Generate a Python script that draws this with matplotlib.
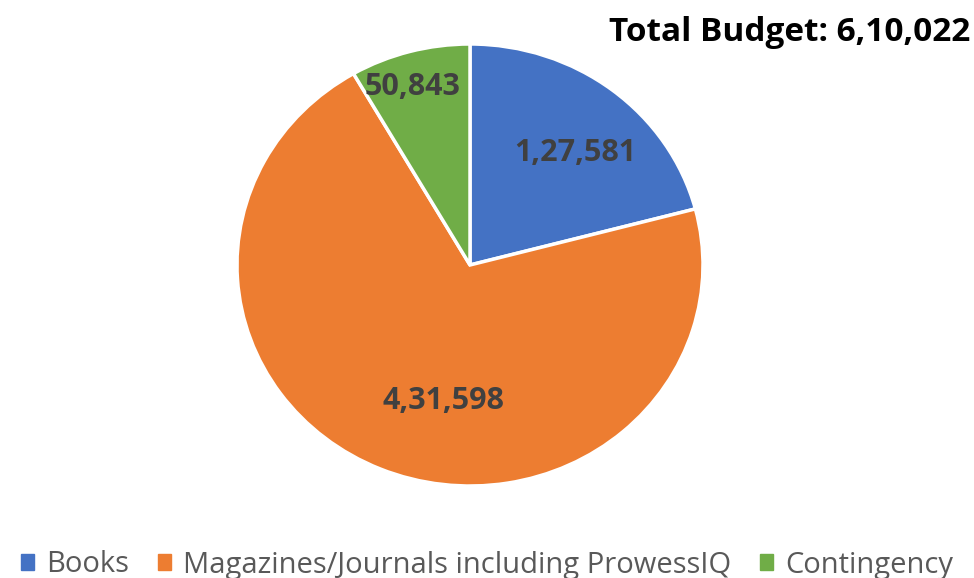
import matplotlib
matplotlib.use("Agg")
import matplotlib.pyplot as plt
import numpy as np
from matplotlib.patches import Patch

categories = ["Books", "Magazines/Journals including ProwessIQ", "Contingency"]
values = [127581, 431598, 50843]
value_labels = ["1,27,581", "4,31,598", "50,843"]
title_text = "Total Budget: 6,10,022"
colors = ["#4472C4", "#ED7D31", "#70AD47"]
# label placement: (radial distance, angle offset deg from wedge middle)
label_place = [(0.68, -4.0), (0.625, 12.0), (0.84, 2.0)]

fig = plt.figure(figsize=(9.74, 5.78), dpi=100)
ax = fig.add_axes([237/974, 92/578, 466/974, 442/578])
wedges, _ = ax.pie(values, colors=colors, startangle=90, counterclock=False,
                   wedgeprops=dict(edgecolor="white", linewidth=2.5))
ax.set_aspect("auto")
ax.set_xlim(-1, 1)
ax.set_ylim(-1, 1)
ax.axis("off")

for w, lab, (d, off) in zip(wedges, value_labels, label_place):
    mid = np.deg2rad((w.theta1 + w.theta2) / 2 + off)
    ax.text(d*np.cos(mid), d*np.sin(mid), lab, ha="center", va="center",
            fontsize=22, fontweight="bold", color="#404040", family="Open Sans")

fig.text(0.996, 0.944, title_text, ha="right", va="center", fontsize=24,
         fontweight="bold", color="black", family="Open Sans")

handles = [Patch(facecolor=c, edgecolor=c) for c in colors]
leg = fig.legend(handles, categories, loc="center", bbox_to_anchor=(0.5, 1 - 565/578),
                 ncol=3, frameon=False, handlelength=0.45, handleheight=0.45,
                 handletextpad=0.4, columnspacing=1.0, borderpad=0.1,
                 prop=dict(family="Open Sans", size=21))
for t in leg.get_texts():
    t.set_color("#595959")

fig.savefig("out.png", dpi=100)
